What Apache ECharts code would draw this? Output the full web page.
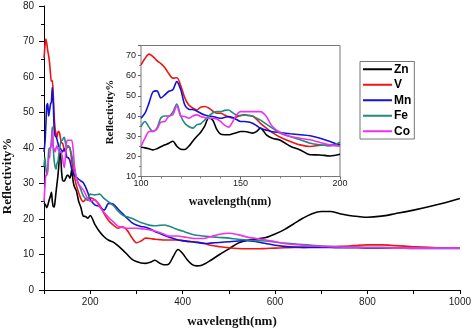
<!DOCTYPE html>
<html>
<head>
<meta charset="utf-8">
<script src="https://cdn.jsdelivr.net/npm/echarts@6/dist/echarts.min.js"></script>
<style>html,body{margin:0;padding:0;background:#fff;}#c{width:474px;height:329px;}</style>
</head>
<body>
<div id="c"></div>
<script>
// wavelength (nm)
var wl = [100,102,104,106,108,110,112,114,116,118,120,122,124,126,128,130,132,134,136,138,140,142,144,146,148,150,152,154,156,158,160,
  163,166,170,175,180,185,190,195,200,
  210,220,230,240,250,260,270,280,290,300,310,320,330,340,350,360,370,380,390,400,410,420,430,440,450,460,
  480,500,520,540,560,580,600,620,640,660,680,700,720,740,760,780,800,
  830,860,900,950,1000];
var seriesNames = ['Zn','V','Mn','Fe','Co'];
var zn = [24.5,24.2,23.8,23.2,23.8,24.8,25.7,26.5,27.5,25,23.5,23.4,25,27.5,29.8,32,35,38.9,38,33.5,31,30.7,30.7,31.2,31.7,32.3,32.3,32,31.5,32.3,34,
  30.7,29,28,25,23.2,20.8,20.7,20.2,21,
  18.5,16.5,15,14,13.5,12.5,11.3,10,8.7,8,7.6,7.5,7.8,8.4,7.6,7.1,7.3,9.5,11.4,10.3,8.5,7.2,6.8,6.9,7.5,8.3,
  10,11.6,13.2,14,14.4,14.8,15.8,17,18.6,20.2,21.5,22.1,22.1,21.5,21,20.7,20.5,
  20.8,21.5,22.5,24,25.8];
var v = [65.4,68.5,70.7,69.5,67.5,66,64,61,58.8,59,55,49,45.5,44,43,44.4,44.7,44,42.5,41.4,41.4,40.5,39.5,39,39.5,40.3,40.6,40.3,40,38.5,36.4,
  34,31.8,29.5,27.4,25.7,24.9,25.5,25.7,26,
  25.4,24,21.5,19.5,18.3,17.4,17.8,16.8,14.8,13.3,13.8,14.6,14.5,14.3,14.2,14.1,14.1,14.1,14.1,13.9,13.7,13.6,13.5,13.3,13.0,12.6,
  12.2,11.9,11.7,11.6,11.6,11.7,11.8,11.9,12,12,12.1,12.2,12.2,12.3,12.4,12.6,12.7,
  12.7,12.5,12.2,11.9,11.8];
var mn = [38.9,41.4,46.4,52,52.5,49,50.5,52.3,53,57.1,53,45.5,43.4,43.2,42.5,41.4,40.5,40,39.8,39.3,38.9,39.3,39.8,39.3,38.3,37.3,37.3,37,36.4,35.3,34,
  33,32.2,31.8,31.2,30.7,30.2,29,27.4,25.5,
  24,23.5,22.5,24.4,24.2,22.8,21.5,20.2,19,18.3,17.9,17.7,17.2,16.5,16,15.4,14.9,14.5,14.1,13.9,13.7,13.6,13.4,13.2,13.1,13.2,
  13.4,13.6,13.8,13.9,13.6,13.1,12.6,12.3,12.1,12,12,12,12,11.9,11.9,11.9,11.8,
  11.8,11.8,11.7,11.7,11.7];
var fe = [34.8,37.3,34.5,32.3,34,39,40,40,42,46,40,36.4,34.8,34,35.6,36.2,38,40,41.5,42.2,42.2,42.8,43,41.7,40.5,40.2,40.6,40.3,40,39,38,
  36,34,31.5,29.8,28.2,26.5,25.7,25.2,27,
  26.8,27,25.8,24.8,23.8,22.3,21.1,20.6,20.2,19.6,19,18.6,18.2,18.1,18.2,18.3,18,17.5,17,16.6,16.1,15.7,15.4,15.3,15.1,15,
  14.8,14.6,14.3,14.1,13.9,13.8,13.5,13.2,13,12.8,12.6,12.4,12.3,12.2,12.1,12.1,12,
  12,11.9,11.9,11.8,11.8];
var co = [24.9,29,32.3,32.5,33.5,37,37.3,40,40.6,45,40,39.8,38.9,40,40.6,39.8,39.3,38.9,38.9,38.5,37.3,35.5,34.5,37,40.5,42.2,42.2,42.2,42.2,42.2,42.2,
  39.8,34.8,31.8,29.8,29,28.2,26.9,25.7,25,
  25.5,23.5,21.8,20.4,19.2,18,17.6,17.4,17.4,17.4,17.3,17.1,16.9,16.6,16.2,15.7,15.2,15.2,15.2,15,14.8,14.6,14.5,14.5,14.6,15,
  15.7,16,15.6,14.9,14.5,14.1,13.6,13.1,12.8,12.6,12.4,12.3,12.2,12.1,12,12,11.9,
  11.9,11.8,11.8,11.8,11.8];
var colors = ['#000000','#f01414','#1212d2','#208a80','#f030f0'];

var values = [zn, v, mn, fe, co];
function pairs(arr, maxX){
  var out = [];
  for (var i = 0; i < wl.length; i++) { if (maxX == null || wl[i] <= maxX) out.push([wl[i], arr[i]]); }
  return out;
}
var series = [];
values.forEach(function(arr, k){
  series.push({name: seriesNames[k], type:'line', xAxisIndex:0, yAxisIndex:0, data: pairs(arr),
    symbol:'none', smooth:0.3, lineStyle:{color:colors[k], width:1.6}, itemStyle:{color:colors[k]}, z: 2+k});
});
values.forEach(function(arr, k){
  series.push({name: seriesNames[k], type:'line', xAxisIndex:1, yAxisIndex:1, data: pairs(arr, 200),
    symbol:'none', smooth:0.3, lineStyle:{color:colors[k], width:1.6}, itemStyle:{color:colors[k]}, z: 12+k});
});

var sans = 'Liberation Sans, Arial, sans-serif';
var serif = 'Liberation Serif, Times New Roman, serif';
var chart = echarts.init(document.getElementById('c'), null, {renderer:'canvas'});
chart.setOption({
  animation:false,
  backgroundColor:'#fff',
  grid:[
    {left:44, top:6, width:418, height:284},
    {left:141, top:45.5, width:199, height:131, show:true, backgroundColor:'#fff', borderColor:'#777', borderWidth:1, z:10}
  ],
  xAxis:[
    {type:'value', gridIndex:0, min:100, max:1000, interval:100,
      axisLine:{lineStyle:{color:'#000', width:1}},
      axisTick:{inside:false, length:4, lineStyle:{color:'#000'}},
      minorTick:{show:false},
      splitLine:{show:false},
      axisLabel:{margin:7, fontSize:10, fontFamily:sans, color:'#222',
        formatter:function(val){ return (val % 200 === 0) ? String(val) : ''; }}
    },
    {type:'value', gridIndex:1, min:100, max:200, interval:50,
      axisLine:{lineStyle:{color:'#666', width:1}},
      axisTick:{inside:false, length:3, lineStyle:{color:'#666'}},
      minorTick:{show:true, splitNumber:5, length:2, lineStyle:{color:'#888'}},
      splitLine:{show:false},
      axisLabel:{margin:3, fontSize:9, fontFamily:sans, color:'#222'}
    }
  ],
  yAxis:[
    {type:'value', gridIndex:0, min:0, max:80, interval:10,
      axisLine:{show:true, lineStyle:{color:'#000', width:1}},
      axisTick:{show:true, inside:false, length:5, lineStyle:{color:'#000'}},
      minorTick:{show:true, splitNumber:2, length:3, lineStyle:{color:'#000'}},
      splitLine:{show:false},
      axisLabel:{margin:10, fontSize:10, fontFamily:sans, color:'#222'}
    },
    {type:'value', gridIndex:1, min:10, max:75, interval:10,
      axisLine:{show:true, lineStyle:{color:'#666', width:1}},
      axisTick:{show:true, inside:false, length:3, lineStyle:{color:'#666'}},
      minorTick:{show:true, splitNumber:2, length:2, lineStyle:{color:'#888'}},
      splitLine:{show:false},
      axisLabel:{margin:5, fontSize:9, fontFamily:sans, color:'#222', showMaxLabel:false}
    }
  ],
  legend:{
    left:360, top:61.5, orient:'vertical', data:seriesNames,
    icon:'rect', itemWidth:29, itemHeight:2, itemGap:2,
    padding:[1,3,1,3], borderColor:'#777', borderWidth:1, backgroundColor:'#fff',
    textStyle:{fontFamily:sans, fontWeight:'bold', fontSize:12, color:'#000', lineHeight:13.5, padding:[0,0,0,-3]}
  },
  graphic:[
    {type:'text', x:232, y:322, style:{text:'wavelength(nm)', font:'bold 13px ' + serif, fill:'#111', textAlign:'center', textVerticalAlign:'middle'}},
    {type:'text', x:8, y:176, rotation:Math.PI/2, style:{text:'Reflectivity%', font:'bold 13px ' + serif, fill:'#111', textAlign:'center', textVerticalAlign:'middle'}},
    {type:'text', x:230, y:201.5, style:{text:'wavelength(nm)', font:'bold 12px ' + serif, fill:'#111', textAlign:'center', textVerticalAlign:'middle'}},
    {type:'text', x:110, y:112, rotation:Math.PI/2, style:{text:'Reflectivity%', font:'bold 11px ' + serif, fill:'#111', textAlign:'center', textVerticalAlign:'middle'}}
  ],
  series: series
});
</script>
</body>
</html>
